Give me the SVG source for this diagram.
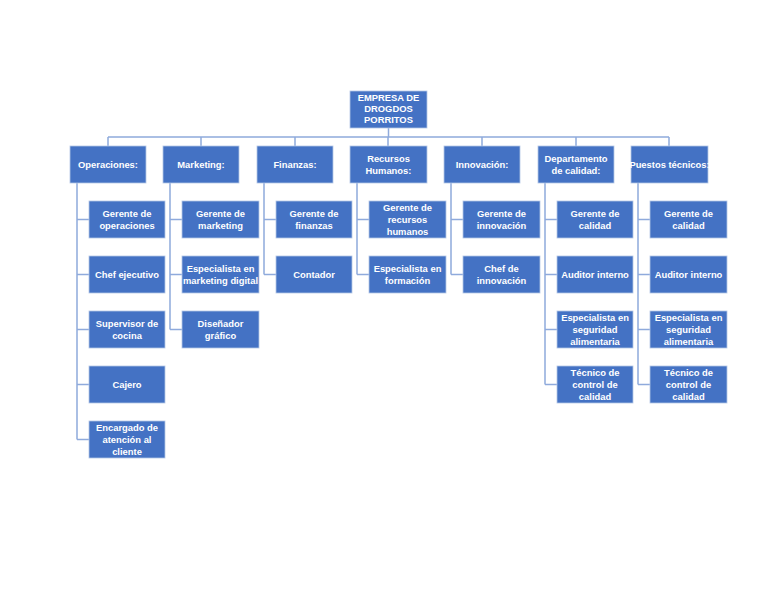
<svg xmlns="http://www.w3.org/2000/svg" width="768" height="594" viewBox="0 0 768 594">
<style>
.b{fill:#4472C4;stroke:#B4C7E7;stroke-width:0.8}
.t{fill:#fff;font-family:"Liberation Sans",Arial,sans-serif;font-weight:bold;font-size:9.4px;text-anchor:middle}
.c{fill:none;stroke:#8FAADC;stroke-width:1.5}
</style>
<rect width="768" height="594" fill="#fff"/>
<g id="connectors" class="c">
<path d="M388.5 128V137M108 137H669M108 137V146M201 137V146M295 137V146M388 137V146M482 137V146M576 137V146M669 137V146"/>
<path d="M77 183V439.5M77 219.5H89M77 274.5H89M77 329.5H89M77 384.5H89M77 439.5H89"/>
<path d="M170 183V329.5M170 219.5H182M170 274.5H182M170 329.5H182"/>
<path d="M264 183V274.5M264 219.5H276M264 274.5H276"/>
<path d="M357 183V274.5M357 219.5H369M357 274.5H369"/>
<path d="M451 183V274.5M451 219.5H463M451 274.5H463"/>
<path d="M545 183V384.5M545 219.5H557M545 274.5H557M545 329.5H557M545 384.5H557"/>
<path d="M638 183V384.5M638 219.5H650M638 274.5H650M638 329.5H650M638 384.5H650"/>
</g>
<g id="n-top"><rect class="b" x="350" y="91" width="77" height="37"/><text class="t" font-size="8.8"><tspan x="388.5" y="101">EMPRESA DE</tspan><tspan x="388.5" y="112">DROGDOS</tspan><tspan x="388.5" y="123">PORRITOS</tspan></text></g>
<g id="n-operaciones"><rect class="b" x="70" y="146" width="76" height="37"/><text class="t" x="108" y="168">Operaciones:</text></g>
<g id="n-marketing"><rect class="b" x="163" y="146" width="76" height="37"/><text class="t" x="201" y="168">Marketing:</text></g>
<g id="n-finanzas"><rect class="b" x="257" y="146" width="76" height="37"/><text class="t" x="295" y="168">Finanzas:</text></g>
<g id="n-rrhh"><rect class="b" x="350" y="146" width="77" height="37"/><text class="t"><tspan x="388.5" y="161.5">Recursos</tspan><tspan x="388.5" y="173.5">Humanos:</tspan></text></g>
<g id="n-innovacion"><rect class="b" x="444" y="146" width="76" height="37"/><text class="t" x="482" y="168">Innovación:</text></g>
<g id="n-calidad"><rect class="b" x="538" y="146" width="76" height="37"/><text class="t"><tspan x="576" y="161.5">Departamento</tspan><tspan x="576" y="173.5">de calidad:</tspan></text></g>
<g id="n-puestos"><rect class="b" x="631" y="146" width="77" height="37"/><text class="t" x="669.5" y="168">Puestos técnicos:</text></g>

<g id="n-op1"><rect class="b" x="89" y="201" width="76" height="37"/><text class="t"><tspan x="127" y="216.5">Gerente de</tspan><tspan x="127" y="228.5">operaciones</tspan></text></g>
<g id="n-op2"><rect class="b" x="89" y="256" width="76" height="37"/><text class="t" x="127" y="278">Chef ejecutivo</text></g>
<g id="n-op3"><rect class="b" x="89" y="311" width="76" height="37"/><text class="t"><tspan x="127" y="326.5">Supervisor de</tspan><tspan x="127" y="338.5">cocina</tspan></text></g>
<g id="n-op4"><rect class="b" x="89" y="366" width="76" height="37"/><text class="t" x="127" y="388">Cajero</text></g>
<g id="n-op5"><rect class="b" x="89" y="421" width="76" height="37"/><text class="t"><tspan x="127" y="430.5">Encargado de</tspan><tspan x="127" y="442.5">atención al</tspan><tspan x="127" y="454.5">cliente</tspan></text></g>

<g id="n-mk1"><rect class="b" x="182" y="201" width="77" height="37"/><text class="t"><tspan x="220.5" y="216.5">Gerente de</tspan><tspan x="220.5" y="228.5">marketing</tspan></text></g>
<g id="n-mk2"><rect class="b" x="182" y="256" width="77" height="37"/><text class="t"><tspan x="220.5" y="271.5">Especialista en</tspan><tspan x="220.5" y="283.5">marketing digital</tspan></text></g>
<g id="n-mk3"><rect class="b" x="182" y="311" width="77" height="37"/><text class="t"><tspan x="220.5" y="326.5">Diseñador</tspan><tspan x="220.5" y="338.5">gráfico</tspan></text></g>

<g id="n-fi1"><rect class="b" x="276" y="201" width="76" height="37"/><text class="t"><tspan x="314" y="216.5">Gerente de</tspan><tspan x="314" y="228.5">finanzas</tspan></text></g>
<g id="n-fi2"><rect class="b" x="276" y="256" width="76" height="37"/><text class="t" x="314" y="278">Contador</text></g>

<g id="n-rh1"><rect class="b" x="369" y="201" width="77" height="37"/><text class="t"><tspan x="407.5" y="210.5">Gerente de</tspan><tspan x="407.5" y="222.5">recursos</tspan><tspan x="407.5" y="234.5">humanos</tspan></text></g>
<g id="n-rh2"><rect class="b" x="369" y="256" width="77" height="37"/><text class="t"><tspan x="407.5" y="271.5">Especialista en</tspan><tspan x="407.5" y="283.5">formación</tspan></text></g>

<g id="n-in1"><rect class="b" x="463" y="201" width="77" height="37"/><text class="t"><tspan x="501.5" y="216.5">Gerente de</tspan><tspan x="501.5" y="228.5">innovación</tspan></text></g>
<g id="n-in2"><rect class="b" x="463" y="256" width="77" height="37"/><text class="t"><tspan x="501.5" y="271.5">Chef de</tspan><tspan x="501.5" y="283.5">innovación</tspan></text></g>

<g id="n-dc1"><rect class="b" x="557" y="201" width="76" height="37"/><text class="t"><tspan x="595" y="216.5">Gerente de</tspan><tspan x="595" y="228.5">calidad</tspan></text></g>
<g id="n-dc2"><rect class="b" x="557" y="256" width="76" height="37"/><text class="t" x="595" y="278">Auditor interno</text></g>
<g id="n-dc3"><rect class="b" x="557" y="311" width="76" height="37"/><text class="t"><tspan x="595" y="320.5">Especialista en</tspan><tspan x="595" y="332.5">seguridad</tspan><tspan x="595" y="344.5">alimentaria</tspan></text></g>
<g id="n-dc4"><rect class="b" x="557" y="366" width="76" height="37"/><text class="t"><tspan x="595" y="375.5">Técnico de</tspan><tspan x="595" y="387.5">control de</tspan><tspan x="595" y="399.5">calidad</tspan></text></g>

<g id="n-pt1"><rect class="b" x="650" y="201" width="77" height="37"/><text class="t"><tspan x="688.5" y="216.5">Gerente de</tspan><tspan x="688.5" y="228.5">calidad</tspan></text></g>
<g id="n-pt2"><rect class="b" x="650" y="256" width="77" height="37"/><text class="t" x="688.5" y="278">Auditor interno</text></g>
<g id="n-pt3"><rect class="b" x="650" y="311" width="77" height="37"/><text class="t"><tspan x="688.5" y="320.5">Especialista en</tspan><tspan x="688.5" y="332.5">seguridad</tspan><tspan x="688.5" y="344.5">alimentaria</tspan></text></g>
<g id="n-pt4"><rect class="b" x="650" y="366" width="77" height="37"/><text class="t"><tspan x="688.5" y="375.5">Técnico de</tspan><tspan x="688.5" y="387.5">control de</tspan><tspan x="688.5" y="399.5">calidad</tspan></text></g>
</svg>
